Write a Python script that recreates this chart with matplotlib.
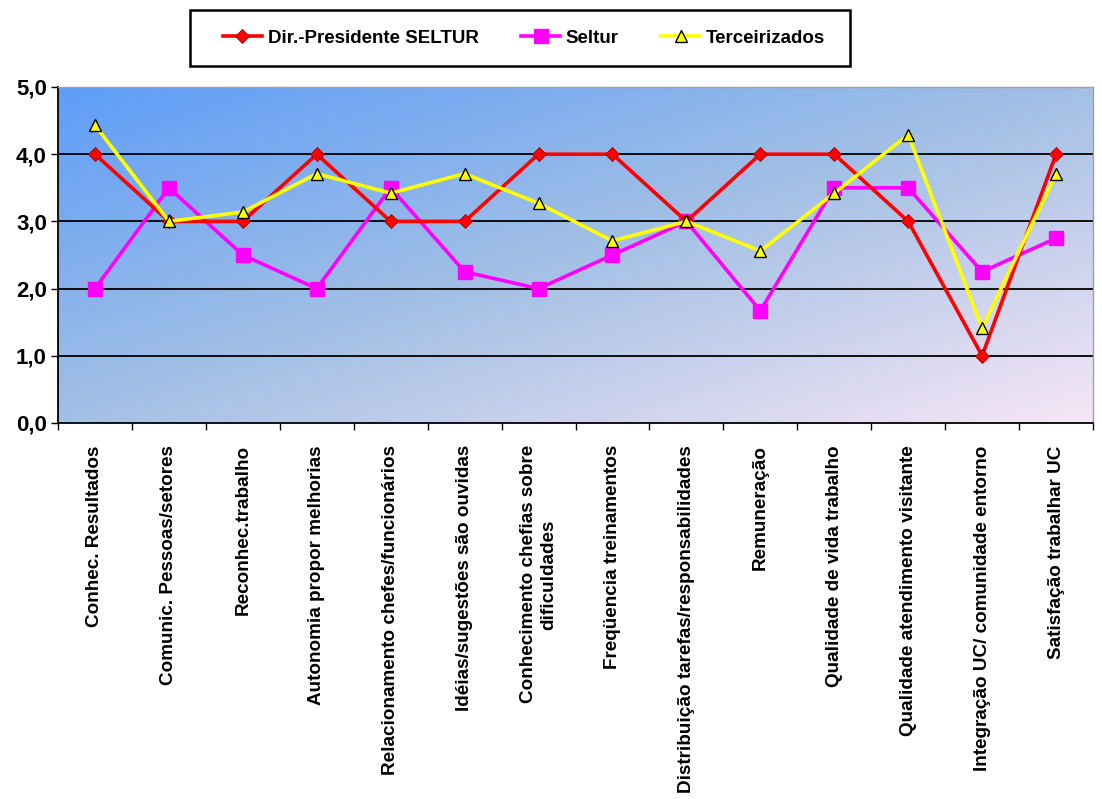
import numpy as np
import matplotlib
matplotlib.use("Agg")
import matplotlib.pyplot as plt
from matplotlib.colors import LinearSegmentedColormap
from matplotlib.patches import Rectangle

categories = [
    "Conhec. Resultados",
    "Comunic. Pessoas/setores",
    "Reconhec.trabalho",
    "Autonomia propor melhorias",
    "Relacionamento chefes/funcionários",
    "Idéias/sugestões são ouvidas",
    "Conhecimento chefias sobre\ndificuldades",
    "Freqüencia treinamentos",
    "Distribuição tarefas/responsabilidades",
    "Remuneração",
    "Qualidade de vida trabalho",
    "Qualidade atendimento visitante",
    "Integração UC/ comunidade entorno",
    "Satisfação trabalhar UC",
]
dir_presidente = [4.0, 3.0, 3.0, 4.0, 3.0, 3.0, 4.0, 4.0, 3.0, 4.0, 4.0, 3.0, 1.0, 4.0]
seltur = [2.0, 3.5, 2.5, 2.0, 3.5, 2.25, 2.0, 2.5, 3.0, 1.67, 3.5, 3.5, 2.25, 2.75]
terceirizados = [4.43, 3.0, 3.14, 3.71, 3.42, 3.71, 3.27, 2.71, 3.0, 2.56, 3.42, 4.29, 1.41, 3.71]
y_ticks = [0, 1, 2, 3, 4, 5]

plt.rcParams["font.family"] = ["Liberation Sans", "DejaVu Sans"]

W, H = 1102, 799
fig = plt.figure(figsize=(W / 100, H / 100), dpi=100)
ax = fig.add_axes([58 / W, 1 - 423 / H, (1093 - 58) / W, (423 - 87) / H])

n = len(categories)
x = np.arange(n)
ax.set_xlim(-0.5, n - 0.5)
ax.set_ylim(0, 5)

# diagonal gradient background, blue top-left to pale pink bottom-right
cmap = LinearSegmentedColormap.from_list(
    "bg", [(0.0, "#5E9DF8"), (0.5, "#A3C0E5"), (1.0, "#F6E6F6")])
gx, gy = np.meshgrid(np.linspace(0, 1, 400), np.linspace(0, 1, 300))
grad = (gx + gy) / 2
ax.imshow(grad, cmap=cmap, aspect="auto", extent=(-0.5, n - 0.5, 0, 5),
          origin="upper", zorder=0, vmin=0, vmax=1, interpolation="bilinear")

for yv in [1, 2, 3, 4]:
    ax.axhline(yv, color="black", lw=1.3, zorder=1)

ax.plot(x, dir_presidente, color="#FF0000", lw=2.6, marker="D", ms=7.5,
        mfc="#FF0000", mec="#A00000", mew=0.6, zorder=4, label="Dir.-Presidente SELTUR")
ax.plot(x, seltur, color="#FF00FF", lw=2.6, marker="s", ms=10,
        mfc="#FF00FF", mec="#FF00FF", zorder=3, label="Seltur")
ax.plot(x, terceirizados, color="#FFFF00", lw=2.6, marker="^", ms=9,
        mfc="#FFFF00", mec="black", mew=1.0, zorder=5, label="Terceirizados")

ax.set_yticks(y_ticks)
ax.set_yticklabels([f"{v:.1f}".replace(".", ",") for v in y_ticks],
                   fontsize=16, fontweight="bold")
ax.set_xticks(np.arange(n + 1) - 0.5, minor=False)
ax.set_xticklabels([])
ax.set_xticks(x, minor=True)
ax.set_xticklabels(categories, minor=True, rotation=90, fontsize=13.6,
                   fontweight="bold", va="top", ha="center", multialignment="center")
ax.tick_params(axis="x", which="major", direction="out", length=5, width=1, color="black")
ax.tick_params(axis="x", which="minor", length=0, pad=16)
ax.tick_params(axis="y", direction="out", length=5, width=1, pad=3)

for side in ["left", "bottom"]:
    ax.spines[side].set_color("black")
    ax.spines[side].set_linewidth(1.3)
for side in ["top", "right"]:
    ax.spines[side].set_color("#A0A0A0")
    ax.spines[side].set_linewidth(1.0)

# legend box
fig.patches.append(Rectangle((190 / W, 1 - 66 / H), 660 / W, 56 / H,
                             transform=fig.transFigure, facecolor="white",
                             edgecolor="black", lw=1.8, zorder=1))
leg = fig.legend(loc="center", bbox_to_anchor=(524 / W, 1 - 38 / H), ncol=3,
                 frameon=False, prop={"weight": "bold", "size": 13.5},
                 handlelength=2.1, columnspacing=2.25, handletextpad=0.3,
                 borderaxespad=0, borderpad=0)
leg.set_zorder(2)

fig.savefig("out.png", dpi=100, facecolor="white")
